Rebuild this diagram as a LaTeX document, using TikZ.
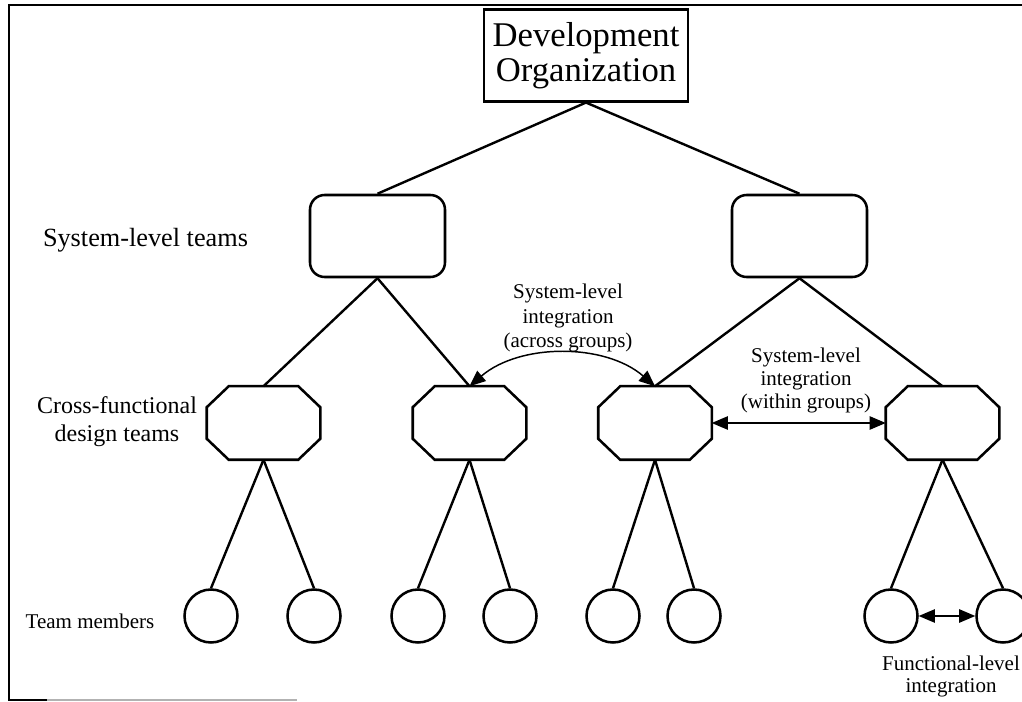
\documentclass[tikz,border=0pt]{standalone}
\usepackage{fontspec}
\setmainfont{Liberation Serif}
\usetikzlibrary{arrows.meta}
\begin{document}
\begin{tikzpicture}[x=0.75pt,y=-0.75pt,
  orgbox/.style={draw,line width=1.6pt,minimum width=153pt,minimum height=69pt,inner sep=0pt,align=center,font=\fontsize{26}{26}\selectfont},
  sysbox/.style={draw,line width=1.9pt,rounded corners=11pt,minimum width=101.25pt,minimum height=61.5pt,inner sep=0pt},
  octbox/.style={draw=none,rectangle,minimum width=84.75pt,minimum height=54.75pt,inner sep=0pt},
  octline/.style={line width=1.9pt,line join=miter},
  member/.style={draw,circle,line width=1.9pt,minimum size=39.75pt,inner sep=0pt},
  link/.style={line width=1.8pt},
  twoway/.style={{Triangle[length=12pt,width=10pt]}-{Triangle[length=12pt,width=10pt]},line width=0.9pt},
  lbl/.style={align=center,inner sep=0pt},
  frame/.style={line width=1.4pt}
]
\useasboundingbox (0,0) rectangle (1022,702);
\clip (0,0) rectangle (1022,702);
\fill[white] (0,0) rectangle (1022,702);
% frame
\coordinate (f1) at (9,5);
\coordinate (f2) at (1022,5);
\coordinate (f3) at (9,700);
\coordinate (f4) at (47,700);
\coordinate (f5) at (297,700);
\draw[frame] (f2) -- (f1) -- (f3) -- (f4);
\draw[frame,gray!60] (f4) -- (f5);
% nodes
\node[orgbox] (org) at (586,55.5) {Development\\Organization};
\node[sysbox] (s1) at (377.5,236) {};
\node[sysbox] (s2) at (799.5,236) {};
\node[octbox] (c1) at (263.5,423) {};
\node[octbox] (c2) at (469.5,423) {};
\node[octbox] (c3) at (655,423) {};
\node[octbox] (c4) at (942.5,423) {};
\foreach \c in {c1,c2,c3,c4}{
  \draw[octline] ([xshift=16.5pt]\c.north west) -- ([xshift=-16.5pt]\c.north east)
    -- ([yshift=-15.75pt]\c.north east) -- ([yshift=15.75pt]\c.south east)
    -- ([xshift=-16.5pt]\c.south east) -- ([xshift=16.5pt]\c.south west)
    -- ([yshift=15.75pt]\c.south west) -- ([yshift=-15.75pt]\c.north west) -- cycle;
}
\node[member] (m1) at (211,616) {};
\node[member] (m2) at (314,616) {};
\node[member] (m3) at (418,616) {};
\node[member] (m4) at (510,616) {};
\node[member] (m5) at (613,616) {};
\node[member] (m6) at (694,616) {};
\node[member] (m7) at (891,616) {};
\node[member] (m8) at (1003,616) {};
% labels
\node[lbl,font=\fontsize{19.7}{22}\selectfont] (lsys) at (145.5,240) {System-level teams};
\node[lbl,font=\fontsize{18}{21}\selectfont] (lcross) at (117,422) {Cross-functional\\design teams};
\node[lbl,font=\fontsize{15.75}{16}\selectfont] (lteam) at (90,621) {Team members};
\node[lbl,font=\fontsize{15.75}{18.4}\selectfont] (lacross) at (568,318) {System-level\\integration\\(across groups)};
\node[lbl,font=\fontsize{15.75}{17.25}\selectfont] (lwithin) at (806,380) {System-level\\integration\\(within groups)};
\node[lbl,font=\fontsize{15.75}{16.5}\selectfont] (lfunc) at (951,676) {Functional-level\\integration};
% tree links
\draw[link] (org.south) -- (s1.north);
\draw[link] (org.south) -- (s2.north);
\draw[link] (s1.south) -- (c1.north);
\draw[link] (s1.south) -- (c2.north);
\draw[link] (s2.south) -- (c3.north);
\draw[link] (s2.south) -- (c4.north);
\draw[link] (c1.south) -- (m1.north);
\draw[link] (c1.south) -- (m2.north);
\draw[link] (c2.south) -- (m3.north);
\draw[link] (c2.south) -- (m4.north);
\draw[link] (c3.south) -- (m5.north);
\draw[link] (c3.south) -- (m6.north);
\draw[link] (c4.south) -- (m7.north);
\draw[link] (c4.south) -- (m8.north);
% integration arrows
\draw[twoway,line width=1.1pt] (c2.north) .. controls (520,343) and (605,343) .. (c3.north);
\draw[twoway] (c3.east) -- (c4.west);
\draw[twoway] (m7.east) -- (m8.west);
\end{tikzpicture}
\end{document}
